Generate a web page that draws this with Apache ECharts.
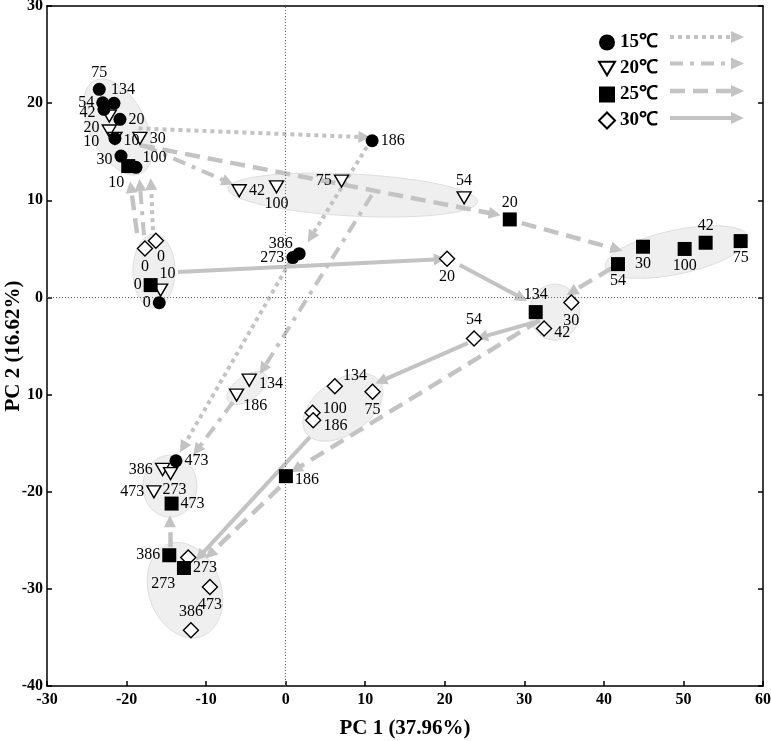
<!DOCTYPE html>
<html><head><meta charset="utf-8">
<script src="https://cdn.jsdelivr.net/npm/echarts@6/dist/echarts.min.js"></script>
<style>html,body{margin:0;padding:0;background:#fff}#c{width:771px;height:741px}</style>
</head><body><div id="c"></div>
<script>
// ---------------- DATA ----------------
const seriesNames = ['15℃', '20℃', '25℃', '30℃'];
const xAxisTitle = 'PC 1 (37.96%)';
const yAxisTitle = 'PC 2 (16.62%)';
const xTickValues = [-30, -20, -10, 0, 10, 20, 30, 40, 50, 60];
const yTickValues = [-40, -30, -20, -10, 0, 10, 20, 30];
const yTickLabels = ['-40', '-30', '-20', '10', '0', '10', '20', '30'];

// 15 ℃ (circles)
const t15Days = ['0', '10', '20', '30', '42', '54', '75', '100', '134', '186', '273', '386', '473'];
const t15X = [-15.89, -21.46, -20.83, -20.70, -22.84, -23.0, -23.43, -18.82, -21.58, 10.87, 0.9, 1.7, -13.79];
const t15Y = [-0.55, 16.37, 18.33, 14.55, 19.36, 20.04, 21.42, 13.39, 19.98, 16.13, 4.1, 4.5, -16.82];

// 20 ℃ (down triangles)
const t20Days = ['10', '', '20', '10', '30', '42', '100', '75', '54', '134', '186', '386', '273', '473'];
const t20X = [-15.72, -22.17, -22.17, -21.46, -18.32, -5.84, -1.15, 7.02, 22.43, -4.58, -6.17, -15.47, -14.47, -16.56];
const t20Y = [0.75, 18.67, 17.13, 16.37, 16.37, 10.98, 11.39, 11.98, 10.25, -8.52, -10.06, -17.71, -18.13, -20.02];

// 25 ℃ (squares)
const t25Days = ['0', '10', '20', '30', '42', '54', '75', '100', '134', '186', '273', '386', '473'];
const t25X = [-16.97, -19.79, 28.17, 44.92, 52.79, 41.77, 57.19, 50.15, 31.43, 0.03, -12.79, -14.63, -14.34];
const t25Y = [1.27, 13.52, 8.03, 5.22, 5.63, 3.43, 5.8, 4.99, -1.51, -18.4, -27.85, -26.54, -21.22];

// 30 ℃ (diamonds)
const t30Days = ['0', '0', '20', '30', '42', '54', '75', '100', '134', '186', '273', '386', '473'];
const t30X = [-17.69, -16.31, 20.29, 35.91, 32.48, 23.68, 10.92, 3.38, 6.18, 3.46, -12.25, -11.91, -9.52];
const t30Y = [5.04, 5.83, 3.98, -0.52, -3.19, -4.22, -9.72, -11.88, -9.14, -12.64, -26.78, -34.26, -29.8];

// trajectory arrows: [fromX, fromY, toX, toY]
const arrows15 = [[-16.68, 6.93, -16.93, 11.67], [-18.5, 17.4, 9.9, 16.5], [10.2, 15.48, 3.17, 6.21], [0.53, 3.64, -12.91, -15.42]];
const arrows20 = [[-17.81, 6.42, -18.32, 11.57], [-17.69, 15.58, -7.26, 11.87], [10.83, 10.54, -2.86, -7.38], [-6.63, -10.78, -11.16, -15.73]];
const arrows25 = [[-18.69, 6.62, -19.45, 11.36], [-18.32, 15.68, 26.28, 8.58], [29.67, 7.65, 41.61, 4.97], [40.98, 3.02, 35.95, 0.55],
                  [31.93, -2.34, 1.28, -17.68], [-0.73, -19.54, -9.52, -26.44], [-14.55, -25.72, -14.55, -23.04]];
const arrows30 = [[-13.54, 2.61, 19.37, 3.94], [21.88, 3.33, 29.67, -0.07], [31.31, -2.54, 24.65, -4.09],
                  [22.89, -4.71, 11.96, -8.62], [3.04, -14.39, -10.78, -26.64]];

// group ellipses: centre (PC1, PC2), semi-axes in PC1 units, tilt in degrees
const ellipseX = [-21.08, -16.56, 8.44, 49.15, 33.82, 7.19, -4.87, -14.55, -12.66];
const ellipseY = [17.54, 2.71, 10.54, 4.67, -1.51, -11.30, -9.34, -19.43, -30.14];
const ellipseA = [6.53, 2.64, 15.7, 9.17, 3.14, 5.65, 2.89, 3.39, 4.52];
const ellipseB = [3.52, 4.65, 2.64, 2.76, 3.52, 3.39, 1.51, 3.89, 6.16];
const ellipseTilt = [-63, 0, -3, 12, 0, 35, 35, 0, 20];

// ---------------- STYLE ----------------
const FONT = "'Liberation Serif','Times New Roman',serif";
const GREY = '#c3c3c3';
// label placement per point: [position, dx, dy]
const t15Lab = [['left'], ['right', 0, 2], ['right'], ['left', 0, 4], ['left', 0, 3], ['left'], ['top'], ['right', -2, -10], ['top', 9, 3], ['right'], ['left'], ['left', 2, -10], ['right']];
const t20Lab = [['top', 7, 0], ['right'], ['left', 0, -3], ['left', -6, 3], ['right'], ['right'], ['bottom'], ['left'], ['top'], ['right', 0, 4], ['right', -3, 11], ['left'], ['bottom', 4, 0], ['left']];
const t25Lab = [['left'], ['bottom', -12, 0], ['top'], ['bottom'], ['top'], ['bottom'], ['bottom'], ['bottom'], ['top'], ['right', 0, 4], ['right'], ['left'], ['right']];
const t30Lab = [['bottom'], ['bottom', 5, -2], ['bottom'], ['bottom'], ['right', 0, 4], ['top'], ['bottom'], ['right', 0, -4], ['right', -2, -10], ['right', 0, 6], ['bottom', -25, 8], ['top'], ['bottom']];

const DOWN_TRIANGLE = 'path://M0,0 L14,0 L7,12 Z';
const symbols = [
  { symbol: 'circle', size: 13, rotate: 0, fill: '#000' },
  { symbol: DOWN_TRIANGLE, size: [14, 12], rotate: 0, fill: '#fff' },
  { symbol: 'rect', size: 14, rotate: 0, fill: '#000' },
  { symbol: 'diamond', size: 15, rotate: 0, fill: '#fff' }
];
const dashes = [[4, 4], [13, 7, 4, 7], [15, 8], 'solid'];
const widths = [4, 4, 4.5, 4];

function buildPoints(days, xs, ys, labs) {
  return xs.map((x, i) => {
    const l = labs[i] || ['right'];
    return {
      name: days[i],
      value: [x, ys[i]],
      label: { position: l[0], offset: [l[1] || 0, l[2] || 0] }
    };
  });
}

const pointSets = [
  buildPoints(t15Days, t15X, t15Y, t15Lab),
  buildPoints(t20Days, t20X, t20Y, t20Lab),
  buildPoints(t25Days, t25X, t25Y, t25Lab),
  buildPoints(t30Days, t30X, t30Y, t30Lab)
];
const arrowSets = [arrows15, arrows20, arrows25, arrows30];

const series = [];

series.push({
  type: 'custom',
  name: 'groups',
  z: 1,
  silent: true,
  clip: false,
  data: ellipseX.map((x, i) => [x, ellipseY[i], ellipseA[i], ellipseB[i], ellipseTilt[i]]),
  encode: { x: 0, y: 1 },
  renderItem: function (params, api) {
    const c = api.coord([api.value(0), api.value(1)]);
    const rx = api.size([api.value(2), 0])[0];
    const ry = api.size([api.value(3), 0])[0];
    const a = api.value(4) * Math.PI / 180;
    const pts = [];
    for (let k = 0; k < 90; k++) {
      const t = k / 90 * 2 * Math.PI;
      const ex = rx * Math.cos(t), ey = ry * Math.sin(t);
      pts.push([c[0] + ex * Math.cos(a) - ey * Math.sin(a), c[1] - (ex * Math.sin(a) + ey * Math.cos(a))]);
    }
    return { type: 'polygon', shape: { points: pts }, style: { fill: '#efefef', stroke: '#dedede', lineWidth: 1 } };
  }
});

// zero reference lines
series.push({
  type: 'scatter', name: 'zero', data: [], z: 2, silent: true,
  markLine: {
    silent: true, symbol: ['none', 'none'], label: { show: false },
    lineStyle: { color: '#666', width: 1, type: [1, 2] },
    data: [{ xAxis: 0 }, { yAxis: 0 }]
  }
});

arrowSets.forEach((arr, i) => {
  series.push({
    type: 'lines',
    name: 'arrow' + i,
    coordinateSystem: 'cartesian2d',
    z: 3 + i * 0.01,
    silent: true,
    symbol: ['none', 'triangle'],
    symbolSize: 12,
    lineStyle: { color: GREY, width: widths[i], type: dashes[i], opacity: 1 },
    data: arr.map(s => ({ coords: [[s[0], s[1]], [s[2], s[3]]] }))
  });
});

pointSets.forEach((pts, i) => {
  const s = symbols[i];
  series.push({
    type: 'scatter',
    name: seriesNames[i],
    z: 5 + (i === 0 ? 0.5 : i === 2 ? 0.4 : 0),
    symbol: s.symbol,
    symbolSize: s.size,
    symbolRotate: s.rotate,
    itemStyle: { color: s.fill, borderColor: '#000', borderWidth: s.fill === '#fff' ? 1.4 : 0, opacity: 1 },
    label: {
      show: true, formatter: '{b}', color: '#000', fontFamily: FONT, fontSize: 16, distance: 2
    },
    emphasis: { disabled: true },
    data: pts
  });
});

// legend arrows (graphic)
const legendRows = [37, 63.5, 91, 118];
const graphics = [];
legendRows.forEach((y, i) => {
  graphics.push({
    type: 'line', shape: { x1: 670, y1: y, x2: 733, y2: y },
    style: { stroke: GREY, lineWidth: widths[i], lineDash: dashes[i] === 'solid' ? null : dashes[i] }
  });
  graphics.push({
    type: 'polygon', shape: { points: [[731, y - 6], [744, y], [731, y + 6]] },
    style: { fill: GREY }
  });
});

const option = {
  backgroundColor: '#fff',
  animation: false,
  grid: { left: 47, right: 8, top: 6, bottom: 55, containLabel: false, outerBoundsMode: 'none' },
  legend: {
    data: seriesNames.map((n, i) => ({ name: n, icon: symbols[i].symbol })),
    orient: 'vertical',
    left: 593, top: 28,
    itemWidth: 16, itemHeight: 16, itemGap: 7,
    textStyle: { fontFamily: FONT, fontWeight: 'bold', fontSize: 19, color: '#000' },
    selectedMode: false
  },
  graphic: graphics,
  xAxis: [{
    type: 'value', min: -30, max: 60, interval: 10,
    name: xAxisTitle, nameLocation: 'middle', nameGap: 32, nameMoveOverlap: false,
    nameTextStyle: { fontFamily: FONT, fontWeight: 'bold', fontSize: 21, color: '#000' },
    axisLine: { show: true, onZero: false, lineStyle: { color: '#000', width: 1.5 } },
    axisTick: { show: true, inside: true, length: 5, lineStyle: { color: '#000', width: 1.5 } },
    axisLabel: { fontFamily: FONT, fontWeight: 'bold', fontSize: 16, color: '#000', margin: 6,
      formatter: v => String(xTickValues[xTickValues.indexOf(v)]) },
    splitLine: { show: false }
  }, {
    type: 'value', min: -30, max: 60, interval: 10, position: 'top',
    axisLine: { show: true, onZero: false, lineStyle: { color: '#000', width: 1.5 } },
    axisTick: { show: false }, axisLabel: { show: false }, splitLine: { show: false }
  }],
  yAxis: [{
    type: 'value', min: -40, max: 30, interval: 10,
    name: yAxisTitle, nameLocation: 'middle', nameGap: 23, nameRotate: 90, nameMoveOverlap: false,
    nameTextStyle: { fontFamily: FONT, fontWeight: 'bold', fontSize: 21, color: '#000' },
    axisLine: { show: true, onZero: false, lineStyle: { color: '#000', width: 1.5 } },
    axisTick: { show: true, inside: true, length: 5, lineStyle: { color: '#000', width: 1.5 } },
    axisLabel: { fontFamily: FONT, fontWeight: 'bold', fontSize: 16, color: '#000', margin: 4,
      formatter: v => yTickLabels[yTickValues.indexOf(v)] },
    splitLine: { show: false }
  }, {
    type: 'value', min: -40, max: 30, interval: 10, position: 'right',
    axisLine: { show: true, onZero: false, lineStyle: { color: '#000', width: 1.5 } },
    axisTick: { show: true, inside: true, length: 5, lineStyle: { color: '#000', width: 1.5 } },
    axisLabel: { show: false }, splitLine: { show: false }
  }],
  series: series
};

const chart = echarts.init(document.getElementById('c'), null, { renderer: 'canvas' });
chart.setOption(option);
</script>
</body></html>
